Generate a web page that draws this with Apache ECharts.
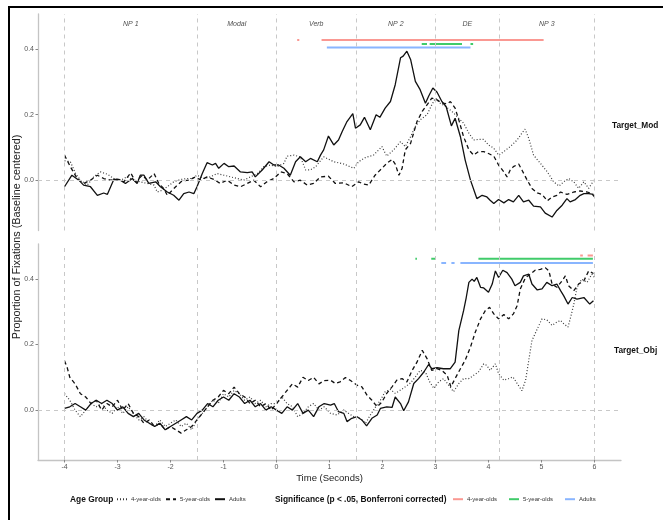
<!DOCTYPE html>
<html><head><meta charset="utf-8">
<script src="https://cdn.jsdelivr.net/npm/echarts@6/dist/echarts.min.js"></script>
<style>html,body{margin:0;padding:0;background:#fff}#c{width:663px;height:520px}</style>
</head><body><div id="c"></div>
<script>
// ---------- axes / labels ----------
const xTicks = [-4,-3,-2,-1,0,1,2,3,4,5,6];
const yTicks = [0, 0.2, 0.4];
const regionBounds = [-4, -1.5, 0, 1.5, 3, 4.2, 6];
const regionNames = ['NP 1','Modal','Verb','NP 2','DE','NP 3'];
const regionLabelY = 0.476;
const ageGroups = ['4-year-olds','5-year-olds','Adults'];
const panels = ['Target_Mod','Target_Obj'];

// ---------- Target_Mod (top panel) ----------
const mod4 = [[-4,0.06],[-3.89,0.057],[-3.79,0.021],[-3.7,0.001],[-3.57,-0.014],[-3.45,0.011],[-3.32,0.026],[-3.19,0.019],[-3.07,0.006],[-2.94,0.001],[-2.82,0.011],[-2.69,0.001],[-2.57,-0.004],[-2.44,-0.009],[-2.31,-0.014],[-2.25,-0.035],[-2.16,-0.03],[-2.06,-0.019],[-1.94,-0.004],[-1.81,0.003],[-1.69,0.006],[-1.59,0.006],[-1.5,0.016],[-1.37,0.006],[-1.25,0.011],[-1.12,0.021],[-0.99,0.016],[-0.87,0.011],[-0.74,0.006],[-0.62,0.001],[-0.49,0.011],[-0.36,0.021],[-0.24,0.042],[-0.11,0.047],[0.01,0.042],[0.14,0.052],[0.2,0.074],[0.33,0.077],[0.45,0.072],[0.55,0.032],[0.64,0.032],[0.74,0.042],[0.89,0.072],[1.08,0.057],[1.27,0.05],[1.46,0.037],[1.55,0.057],[1.68,0.07],[1.83,0.077],[1.99,0.103],[2.08,0.074],[2.21,0.093],[2.34,0.118],[2.43,0.103],[2.53,0.133],[2.62,0.164],[2.71,0.184],[2.84,0.2],[2.93,0.23],[3.0,0.25],[3.09,0.235],[3.19,0.225],[3.31,0.21],[3.44,0.189],[3.53,0.174],[3.63,0.144],[3.72,0.123],[3.81,0.125],[3.91,0.125],[4.0,0.108],[4.1,0.098],[4.19,0.077],[4.29,0.088],[4.41,0.103],[4.54,0.123],[4.63,0.144],[4.69,0.156],[4.76,0.128],[4.85,0.077],[4.98,0.052],[5.11,0.026],[5.23,-0.004],[5.33,-0.017],[5.42,-0.004],[5.51,0.006],[5.61,-0.004],[5.7,-0.024],[5.8,-0.004],[5.89,-0.024],[5.95,-0.009],[6.0,0.006]];
const mod5 = [[-4,0.077],[-3.89,0.042],[-3.76,0.006],[-3.64,-0.009],[-3.51,0.001],[-3.38,0.016],[-3.26,0.006],[-3.13,0.001],[-3.0,0.003],[-2.88,-0.004],[-2.75,0.023],[-2.66,-0.004],[-2.53,0.016],[-2.44,0.001],[-2.31,0.021],[-2.22,-0.009],[-2.13,-0.024],[-2.06,-0.045],[-1.97,-0.03],[-1.87,-0.014],[-1.78,-0.001],[-1.65,0.001],[-1.53,0.011],[-1.43,0.001],[-1.31,0.011],[-1.18,0.003],[-1.06,-0.009],[-0.93,0.001],[-0.8,-0.014],[-0.68,-0.019],[-0.55,-0.009],[-0.43,0.001],[-0.3,-0.019],[-0.18,-0.004],[-0.05,0.006],[0.08,0.026],[0.2,0.021],[0.33,-0.004],[0.45,0.001],[0.58,-0.014],[0.7,-0.009],[0.83,0.011],[0.98,0.013],[1.11,-0.009],[1.27,-0.007],[1.42,-0.019],[1.55,-0.004],[1.64,-0.011],[1.74,-0.014],[1.86,0.016],[1.99,0.037],[2.08,0.052],[2.18,0.064],[2.24,0.05],[2.31,0.016],[2.37,0.037],[2.43,0.093],[2.53,0.113],[2.65,0.179],[2.75,0.21],[2.84,0.23],[2.93,0.25],[3.03,0.245],[3.12,0.235],[3.22,0.233],[3.28,0.24],[3.37,0.22],[3.44,0.184],[3.53,0.133],[3.63,0.093],[3.72,0.077],[3.81,0.088],[3.91,0.088],[4.0,0.082],[4.1,0.074],[4.19,0.047],[4.29,0.026],[4.35,0.011],[4.41,0.032],[4.47,0.042],[4.57,0.05],[4.63,0.032],[4.73,0.001],[4.82,-0.024],[4.92,-0.038],[5.01,-0.042],[5.11,-0.062],[5.2,-0.05],[5.29,-0.045],[5.36,-0.035],[5.48,-0.042],[5.61,-0.035],[5.73,-0.032],[5.86,-0.035],[5.95,-0.04],[6.0,-0.05]];
const modAdults = [[-4,-0.019],[-3.86,0.016],[-3.73,0.001],[-3.64,-0.014],[-3.51,-0.019],[-3.38,-0.045],[-3.26,-0.038],[-3.19,-0.042],[-3.07,0.003],[-2.97,0.003],[-2.85,-0.009],[-2.72,0.006],[-2.63,-0.009],[-2.57,0.016],[-2.5,0.016],[-2.41,-0.009],[-2.28,-0.004],[-2.19,-0.019],[-2.06,-0.035],[-1.94,-0.045],[-1.84,-0.06],[-1.75,-0.04],[-1.65,-0.035],[-1.56,-0.04],[-1.5,-0.019],[-1.4,0.021],[-1.31,0.054],[-1.21,0.047],[-1.15,0.052],[-1.09,0.037],[-0.99,0.052],[-0.9,0.042],[-0.8,0.044],[-0.68,0.026],[-0.55,0.024],[-0.46,0.026],[-0.4,0.011],[-0.27,0.032],[-0.14,0.057],[-0.05,0.047],[0.04,0.047],[0.14,0.037],[0.26,0.016],[0.36,0.057],[0.45,0.072],[0.55,0.057],[0.64,0.067],[0.77,0.057],[0.83,0.077],[0.89,0.093],[0.98,0.135],[1.08,0.108],[1.17,0.123],[1.24,0.149],[1.33,0.179],[1.44,0.203],[1.49,0.159],[1.58,0.169],[1.66,0.192],[1.77,0.154],[1.88,0.2],[1.95,0.192],[2.05,0.22],[2.15,0.24],[2.24,0.291],[2.34,0.373],[2.39,0.378],[2.46,0.393],[2.53,0.368],[2.62,0.301],[2.71,0.276],[2.81,0.235],[2.87,0.256],[2.95,0.281],[3.03,0.268],[3.12,0.24],[3.2,0.225],[3.3,0.166],[3.37,0.189],[3.47,0.133],[3.56,0.062],[3.66,0.001],[3.78,-0.055],[3.88,-0.045],[3.97,-0.05],[4.03,-0.06],[4.1,-0.07],[4.19,-0.058],[4.29,-0.068],[4.38,-0.058],[4.47,-0.065],[4.57,-0.045],[4.66,-0.065],[4.76,-0.06],[4.85,-0.078],[4.98,-0.08],[5.07,-0.099],[5.2,-0.111],[5.29,-0.091],[5.39,-0.075],[5.48,-0.055],[5.54,-0.065],[5.64,-0.058],[5.73,-0.045],[5.8,-0.04],[5.89,-0.04],[5.98,-0.042]];

// ---------- Target_Obj (bottom panel) ----------
const obj4 = [[-4,0.05],[-3.9,0.03],[-3.8,0.0],[-3.7,-0.02],[-3.6,0.0],[-3.5,0.02],[-3.4,0.01],[-3.3,0.02],[-3.2,0.0],[-3.1,-0.01],[-3.0,0.01],[-2.9,-0.01],[-2.8,0.01],[-2.7,-0.01],[-2.6,-0.03],[-2.5,-0.02],[-2.4,-0.04],[-2.3,-0.05],[-2.2,-0.03],[-2.1,-0.05],[-2.0,-0.04],[-1.9,-0.03],[-1.8,-0.05],[-1.7,-0.04],[-1.6,-0.06],[-1.5,-0.03],[-1.4,-0.01],[-1.3,0.01],[-1.2,0.03],[-1.1,0.02],[-1.0,0.05],[-0.9,0.04],[-0.8,0.06],[-0.7,0.05],[-0.6,0.03],[-0.5,0.04],[-0.4,0.02],[-0.3,0.03],[-0.2,0.01],[-0.1,0.02],[0,0.02],[0.1,0.04],[0.2,0.02],[0.3,0.01],[0.4,-0.02],[0.5,-0.01],[0.6,0.01],[0.7,0.02],[0.8,0.0],[0.9,0.01],[1.02,-0.01],[1.14,-0.015],[1.27,0.0],[1.36,-0.01],[1.46,-0.02],[1.58,-0.025],[1.68,-0.04],[1.77,-0.015],[1.87,0.01],[1.96,0.03],[2.05,0.056],[2.15,0.063],[2.24,0.051],[2.34,0.061],[2.43,0.071],[2.53,0.083],[2.62,0.101],[2.71,0.121],[2.81,0.116],[2.89,0.086],[2.97,0.066],[3.06,0.086],[3.15,0.096],[3.25,0.076],[3.34,0.056],[3.44,0.081],[3.53,0.096],[3.63,0.096],[3.72,0.106],[3.81,0.116],[3.91,0.141],[3.97,0.136],[4.03,0.121],[4.13,0.141],[4.19,0.111],[4.29,0.091],[4.38,0.096],[4.46,0.101],[4.54,0.081],[4.63,0.059],[4.7,0.091],[4.76,0.152],[4.82,0.212],[4.92,0.247],[5.01,0.278],[5.1,0.275],[5.2,0.258],[5.29,0.268],[5.36,0.273],[5.42,0.263],[5.5,0.253],[5.55,0.283],[5.61,0.323],[5.67,0.374],[5.76,0.399],[5.86,0.389],[5.95,0.414],[6.0,0.404]];
const obj5 = [[-4,0.15],[-3.95,0.13],[-3.9,0.1],[-3.8,0.08],[-3.7,0.05],[-3.6,0.04],[-3.5,0.02],[-3.4,0.03],[-3.3,0.0],[-3.2,0.02],[-3.1,0.01],[-3.0,0.03],[-2.9,0.0],[-2.8,0.02],[-2.7,-0.01],[-2.6,-0.02],[-2.5,-0.04],[-2.4,-0.03],[-2.3,-0.05],[-2.2,-0.04],[-2.1,-0.06],[-2.0,-0.05],[-1.9,-0.06],[-1.8,-0.07],[-1.7,-0.06],[-1.6,-0.05],[-1.5,-0.03],[-1.4,-0.01],[-1.3,0.01],[-1.2,0.03],[-1.1,0.04],[-1.0,0.06],[-0.9,0.05],[-0.8,0.07],[-0.7,0.05],[-0.6,0.04],[-0.5,0.02],[-0.4,0.03],[-0.3,0.01],[-0.2,0.02],[-0.1,0.0],[0,0.02],[0.1,0.04],[0.2,0.06],[0.3,0.08],[0.4,0.07],[0.5,0.1],[0.6,0.09],[0.7,0.1],[0.8,0.08],[0.9,0.09],[1.02,0.091],[1.11,0.081],[1.2,0.086],[1.3,0.099],[1.39,0.091],[1.52,0.076],[1.61,0.071],[1.71,0.045],[1.8,0.03],[1.9,0.01],[1.99,0.025],[2.08,0.051],[2.18,0.071],[2.27,0.091],[2.37,0.096],[2.46,0.086],[2.56,0.121],[2.65,0.146],[2.75,0.182],[2.84,0.157],[2.93,0.121],[3.03,0.126],[3.12,0.121],[3.22,0.106],[3.29,0.071],[3.37,0.096],[3.47,0.126],[3.56,0.152],[3.66,0.192],[3.75,0.237],[3.85,0.278],[3.94,0.303],[4.02,0.313],[4.1,0.293],[4.19,0.278],[4.29,0.291],[4.38,0.278],[4.47,0.293],[4.54,0.318],[4.6,0.369],[4.7,0.404],[4.79,0.414],[4.88,0.426],[4.98,0.429],[5.07,0.434],[5.14,0.424],[5.2,0.384],[5.29,0.374],[5.39,0.394],[5.45,0.409],[5.51,0.379],[5.61,0.364],[5.7,0.384],[5.8,0.394],[5.89,0.424],[5.98,0.416]];
const objAdults = [[-4,0.005],[-3.9,0.01],[-3.8,0.02],[-3.7,0.01],[-3.6,0.0],[-3.5,0.02],[-3.4,0.03],[-3.3,0.02],[-3.2,0.03],[-3.1,0.02],[-3.0,0.0],[-2.9,0.01],[-2.8,-0.01],[-2.7,-0.02],[-2.6,-0.01],[-2.5,-0.03],[-2.4,-0.04],[-2.3,-0.05],[-2.2,-0.04],[-2.1,-0.06],[-2.0,-0.05],[-1.9,-0.04],[-1.8,-0.03],[-1.7,-0.02],[-1.6,-0.03],[-1.5,-0.01],[-1.4,0.0],[-1.3,0.02],[-1.2,0.01],[-1.1,0.03],[-1.0,0.04],[-0.9,0.03],[-0.8,0.05],[-0.7,0.04],[-0.6,0.02],[-0.5,0.03],[-0.4,0.01],[-0.3,0.02],[-0.2,0.0],[-0.1,0.01],[0,0.0],[0.1,-0.01],[0.2,0.01],[0.3,0.0],[0.4,0.02],[0.5,-0.01],[0.6,0.0],[0.7,-0.02],[0.8,0.01],[0.9,0.02],[1.02,0.015],[1.09,0.02],[1.17,-0.005],[1.27,-0.01],[1.33,-0.035],[1.42,-0.025],[1.52,-0.02],[1.61,-0.03],[1.7,-0.048],[1.8,-0.025],[1.9,-0.015],[1.96,0.005],[2.08,0.01],[2.18,0.008],[2.24,0.04],[2.34,0.02],[2.4,-0.002],[2.49,0.025],[2.59,0.081],[2.68,0.096],[2.78,0.116],[2.87,0.139],[2.93,0.126],[3.03,0.129],[3.15,0.126],[3.28,0.126],[3.37,0.146],[3.44,0.242],[3.53,0.303],[3.58,0.343],[3.63,0.389],[3.69,0.399],[3.73,0.392],[3.78,0.404],[3.85,0.374],[3.91,0.372],[4.0,0.359],[4.07,0.384],[4.13,0.424],[4.19,0.404],[4.27,0.426],[4.35,0.419],[4.44,0.399],[4.5,0.379],[4.6,0.389],[4.66,0.409],[4.76,0.414],[4.82,0.384],[4.92,0.366],[5.01,0.369],[5.1,0.389],[5.2,0.379],[5.29,0.384],[5.36,0.364],[5.42,0.348],[5.5,0.323],[5.58,0.343],[5.67,0.338],[5.8,0.343],[5.91,0.323],[5.98,0.333]];

// ---------- significance segments [start, end] and their heights ----------
const sigMod4 = [[0.39,0.43],[0.85,5.04]];
const sigMod5 = [[2.74,2.84],[2.89,3.5],[3.66,3.71]];
const sigModAdults = [[0.95,3.66]];
const sigModY = [0.427, 0.415, 0.404];
const sigObj4 = [[5.73,5.78],[5.87,5.97]];
const sigObj5 = [[2.62,2.65],[2.92,3.0],[3.81,5.97]];
const sigObjAdults = [[3.11,3.2],[3.3,3.36],[3.47,5.97]];
const sigObjY = [0.471, 0.461, 0.448];

const ageStyles = [
  {type:[1,2], width:1.2, color:'#3a3a3a'},
  {type:[4,3], width:1.3, color:'#111'},
  {type:'solid', width:1.3, color:'#111'}
];
const sigColors = ['#F8766D','#00BA38','#619CFF'];
const sigPrefix = 'Sig: ';

function segs(list, y){
  const out = [];
  list.forEach(s => { out.push([s[0], y]); out.push([s[1], y]); out.push([s[1], null]); });
  return out;
}

const chart = echarts.init(document.getElementById('c'), null, {renderer:'canvas'});
const grids = [
  {left:38, top:14, width:583, height:216.5},
  {left:38, top:244, width:583, height:216}
];
const axisGray = '#c4c4c4';
const xAxes = grids.map((g,i)=>({
  type:'value', gridIndex:i, min:-4.5, max:6.5,
  axisLine:{show:i===1, onZero:false, lineStyle:{color:axisGray, width:1.3}},
  axisTick:{show:i===1, customValues:xTicks, length:2.5, lineStyle:{color:'#888'}},
  axisLabel:{show:i===1, customValues:xTicks, fontSize:7, color:'#555', margin:4, fontFamily:'Liberation Sans'},
  splitLine:{show:false},
  name: i===1 ? 'Time (Seconds)' : '', nameLocation:'middle', nameGap:13,
  nameTextStyle:{fontSize:9.5, color:'#222', fontFamily:'Liberation Sans'}
}));
const yAxes = grids.map((g,i)=>({
  type:'value', gridIndex:i, min:-0.152, max:0.506,
  axisLine:{show:true, onZero:false, lineStyle:{color:axisGray, width:1.3}},
  axisTick:{show:true, customValues:yTicks, length:2.5, lineStyle:{color:'#888'}},
  axisLabel:{show:true, customValues:yTicks, fontSize:7, color:'#555', margin:4, formatter:v=>v.toFixed(1), fontFamily:'Liberation Sans'},
  splitLine:{show:false}
}));

const series = [];
const panelData = [[mod4, mod5, modAdults],[obj4, obj5, objAdults]];
const sigData = [[sigMod4, sigMod5, sigModAdults],[sigObj4, sigObj5, sigObjAdults]];
const sigY = [sigModY, sigObjY];

for (let p=0; p<2; p++){
  series.push({
    type:'line', xAxisIndex:p, yAxisIndex:p, data:[], silent:true,
    markLine:{silent:true, symbol:'none', label:{show:false}, animation:false,
      lineStyle:{type:[4,4], color:'#c8c8c8', width:1},
      data: regionBounds.map(v=>({xAxis:v})).concat([{yAxis:0}])}
  });
  for (let a=0; a<3; a++){
    series.push({
      name: ageGroups[a], type:'line', xAxisIndex:p, yAxisIndex:p,
      data: panelData[p][a], symbol:'none', showSymbol:false, smooth:false,
      lineStyle: ageStyles[a], itemStyle:{color:ageStyles[a].color}, animation:false, z:3
    });
  }
  for (let a=0; a<3; a++){
    series.push({
      name: sigPrefix + ageGroups[a], type:'line', xAxisIndex:p, yAxisIndex:p,
      data: segs(sigData[p][a], sigY[p][a]), symbol:'none', showSymbol:false, connectNulls:false,
      lineStyle:{color:sigColors[a], width:2, opacity:0.75}, itemStyle:{color:sigColors[a]}, animation:false, z:2
    });
  }
}
series.push({
  type:'scatter', xAxisIndex:0, yAxisIndex:0, symbolSize:0, silent:true, animation:false,
  data: regionNames.map((n,i)=>[(regionBounds[i]+regionBounds[i+1])/2, regionLabelY, n]),
  label:{show:true, position:'inside', formatter:p=>p.data[2], fontSize:7, fontStyle:'italic', color:'#222', fontFamily:'Liberation Sans'}
});

const legText = {fontSize:6, color:'#333', fontFamily:'Liberation Sans', padding:[0,0,0,-1]};
const legCommon = {top:491, itemWidth:10, itemHeight:8, itemGap:4, textStyle:legText, selectedMode:false,
  itemStyle:{opacity:0}};
chart.setOption({
  animation:false,
  backgroundColor:'#fff',
  grid: grids,
  xAxis: xAxes,
  yAxis: yAxes,
  series: series,
  title: [
    {text:'Age Group', left:65, top:491, textStyle:{fontSize:8.4, fontWeight:'bold', color:'#111', fontFamily:'Liberation Sans'}},
    {text:'Significance (p < .05, Bonferroni corrected)', left:270, top:491, textStyle:{fontSize:8.4, fontWeight:'bold', color:'#111', fontFamily:'Liberation Sans'}},
    {text:panels[0], left:607, top:117, textStyle:{fontSize:8.3, fontWeight:'bold', color:'#111', fontFamily:'Liberation Sans'}},
    {text:panels[1], left:609, top:342, textStyle:{fontSize:8.3, fontWeight:'bold', color:'#111', fontFamily:'Liberation Sans'}}
  ],
  legend: [
    Object.assign({data:ageGroups, left:111}, legCommon),
    Object.assign({data:ageGroups.map(a=>sigPrefix+a), left:447, formatter:n=>n.replace(sigPrefix,'')}, legCommon,
      {itemGap:11})
  ],
  graphic: [
    {type:'rect', shape:{x:9, y:7, width:700, height:600}, style:{fill:'none', stroke:'#000', lineWidth:2}, silent:true},
    {type:'text', x:17, y:237, rotation:Math.PI/2, style:{text:'Proportion of Fixations (Baseline centered)', fontSize:10.8, fill:'#222', textAlign:'center', textVerticalAlign:'middle', fontFamily:'Liberation Sans'}}
  ]
});
</script></body></html>
